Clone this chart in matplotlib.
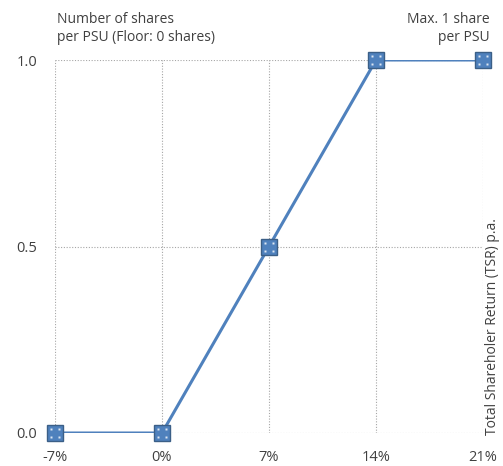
import matplotlib
matplotlib.use("Agg")
import matplotlib.pyplot as plt
from matplotlib.path import Path

# TSR p.a. vs. number of shares per PSU
tsr = [-7, 0, 7, 14, 21]
shares = [0.0, 0.0, 0.5, 1.0, 1.0]
x_labels = ["-7%", "0%", "7%", "14%", "21%"]
y_ticks = [0.0, 0.5, 1.0]
y_labels = ["0.0", "0.5", "1.0"]

blue = "#4f81bd"
edge = "#3b5f87"
txt = "#404040"

plt.rcParams["font.family"] = ["Open Sans", "DejaVu Sans"]
plt.rcParams["font.size"] = 10

fig = plt.figure(figsize=(5.03, 4.66), dpi=100)
ax = fig.add_axes([55 / 503, 33 / 466, 428 / 503, 373 / 466])

ax.plot(tsr, shares, color=blue, lw=2.2, zorder=3)
sq = 12
ax.plot(tsr, shares, ls="none", marker="s", ms=sq, mfc=blue, mec=edge, mew=1.0,
        zorder=4, clip_on=False)

# little white dots inside each square marker
verts, codes = [], []
for cx in (-0.25, 0.25):
    for cy in (-0.25, 0.25):
        h = 0.06
        verts += [(cx - h, cy - h), (cx + h, cy - h), (cx + h, cy + h), (cx - h, cy + h), (cx - h, cy - h)]
        codes += [Path.MOVETO, Path.LINETO, Path.LINETO, Path.LINETO, Path.CLOSEPOLY]
dots = Path(verts, codes)
ax.plot(tsr, shares, ls="none", marker=dots, ms=sq * 0.62, mfc="#dce6f2", mec="none",
        zorder=5, clip_on=False)

ax.set_xlim(-7, 21)
ax.set_ylim(0, 1)
ax.set_xticks(tsr)
ax.set_xticklabels(x_labels)
ax.set_yticks(y_ticks)
ax.set_yticklabels(y_labels)
ax.tick_params(length=0, labelsize=10.5, colors=txt, pad=12)
ax.tick_params(axis="y", pad=13)
ax.grid(True, color="#a6a6a6", lw=0.8, ls=(0, (1, 1.5)))
for s in ax.spines.values():
    s.set_visible(False)

fig.text(57 / 503, 1 - 12 / 466, "Number of shares\nper PSU (Floor: 0 shares)",
         ha="left", va="top", fontsize=10, color=txt, linespacing=1.25)
fig.text(490 / 503, 1 - 12 / 466, "Max. 1 share\nper PSU",
         ha="right", va="top", fontsize=10, color=txt, linespacing=1.25, multialignment="right")
fig.text(493 / 503, 31 / 466, "Total Shareholer Return (TSR) p.a.",
         rotation=90, ha="center", va="bottom", fontsize=10, color=txt)

fig.savefig("out.png", dpi=100)
